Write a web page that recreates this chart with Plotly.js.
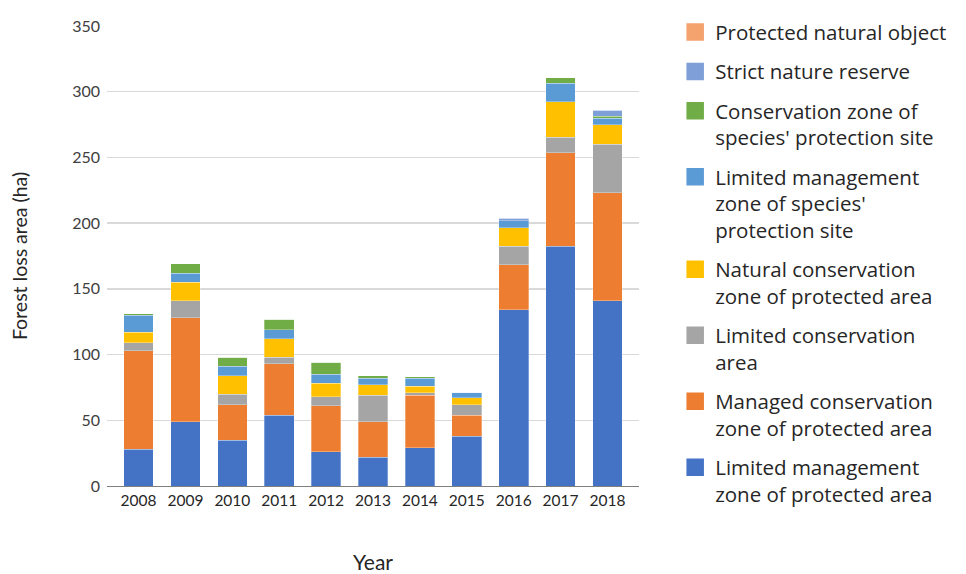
<!DOCTYPE html>
<html>
<head>
<meta charset="utf-8">
<script src="https://cdn.plot.ly/plotly-3.0.1.min.js"></script>
<style>
  html, body { margin: 0; padding: 0; background: #ffffff; }
  #chart { width: 966px; height: 574px; }
</style>
</head>
<body>
<div id="chart"></div>
<script>
// Forest loss by protection category, 2008-2018 (hectares)
const years = ['2008', '2009', '2010', '2011', '2012', '2013', '2014', '2015', '2016', '2017', '2018'];

const limitedMgmtProtectedArea = [28, 49, 35, 54, 26, 22, 29, 38, 134, 182.5, 141];
const managedConservationZone  = [75, 79, 27, 39, 35, 27, 40, 16, 34.5, 71, 82];
const limitedConservationArea  = [6, 13, 8, 5, 7, 20, 2, 8, 14, 12, 37];
const naturalConservationZone  = [8, 14, 14, 14, 10, 8, 5, 5, 14, 27, 15];
const limitedMgmtSpeciesSite   = [13, 7, 7, 7, 7, 5, 6, 4.5, 5.5, 14, 5];
const conservationSpeciesSite  = [1, 7, 7, 8, 9, 2, 1, 0, 0, 4, 1.2];
const strictNatureReserve      = [0, 0, 0, 0, 0, 0, 0, 0, 1.7, 0, 4.6];
const protectedNaturalObject   = [0, 0, 0, 0, 0, 0, 0, 0, 0, 0, 0];

const seriesNames = [
  'Limited management<br>zone of protected area',
  'Managed conservation<br>zone of protected area',
  'Limited conservation<br>area',
  'Natural conservation<br>zone of protected area',
  'Limited management<br>zone of species\'<br>protection site',
  'Conservation zone of<br>species\' protection site',
  'Strict nature reserve',
  'Protected natural object'
];
const seriesValues = [
  limitedMgmtProtectedArea, managedConservationZone, limitedConservationArea,
  naturalConservationZone, limitedMgmtSpeciesSite, conservationSpeciesSite,
  strictNatureReserve, protectedNaturalObject
];
const seriesColors = ['#4472C4', '#ED7D31', '#A5A5A5', '#FFC000', '#5B9BD5', '#70AD47', '#7F9FD8', '#F4A26E'];

const font = 'Lato, "Open Sans", sans-serif';
const legendFont = '"Open Sans", Lato, sans-serif';
const traces = [];

// stacked bars, bottom segment first
seriesNames.forEach((name, i) => {
  traces.push({
    type: 'bar',
    x: years,
    y: seriesValues[i],
    name: name,
    marker: { color: seriesColors[i], line: { color: 'rgba(255,255,255,0.5)', width: 0.6 } },
    showlegend: false,
    hoverinfo: 'x+y+name'
  });
});

// legend keys, listed from the top of the stack down
for (let i = seriesNames.length - 1; i >= 0; i--) {
  traces.push({
    type: 'scatter',
    mode: 'markers',
    x: [null],
    y: [null],
    name: seriesNames[i],
    legendgroup: 'g' + i,
    marker: { symbol: 'square', size: 16, color: seriesColors[i], line: { color: seriesColors[i], width: 1.5 } },
    hoverinfo: 'skip'
  });
}

const layout = {
  width: 966,
  height: 574,
  margin: { l: 107, r: 327, t: 21, b: 88 },
  paper_bgcolor: '#ffffff',
  plot_bgcolor: '#ffffff',
  font: { family: font, color: '#404040' },
  barmode: 'stack',
  bargap: 0.366,
  xaxis: {
    type: 'category',
    range: [-0.674, 10.674],
    showgrid: false,
    showline: true,
    linecolor: '#7f7f7f',
    linewidth: 1.3,
    ticks: '',
    tickfont: { size: 15.5, color: '#262626', family: font },
    title: { text: 'Year', font: { size: 21, color: '#262626', family: font }, standoff: 54 },
    automargin: false,
    fixedrange: true
  },
  yaxis: {
    range: [0, 350],
    dtick: 50,
    tick0: 0,
    showgrid: true,
    gridcolor: '#D9D9D9',
    gridwidth: 1.3,
    zeroline: false,
    showline: false,
    ticks: '',
    ticklabelstandoff: 6,
    tickfont: { size: 16, color: '#404040', family: font },
    title: { text: 'Forest loss area (ha)', font: { size: 19.5, color: '#262626', family: font }, standoff: 39 },
    automargin: false,
    fixedrange: true
  },
  showlegend: true,
  legend: {
    x: 1.068,
    xanchor: 'left',
    y: 1.03,
    yanchor: 'top',
    traceorder: 'grouped',
    tracegroupgap: 9.7,
    valign: 'top',
    maxheight: 570,
    font: { size: 20.5, color: '#262626', family: legendFont },
    bgcolor: 'rgba(0,0,0,0)'
  }
};

Plotly.newPlot('chart', traces, layout, { displayModeBar: false, staticPlot: true });
</script>
</body>
</html>
